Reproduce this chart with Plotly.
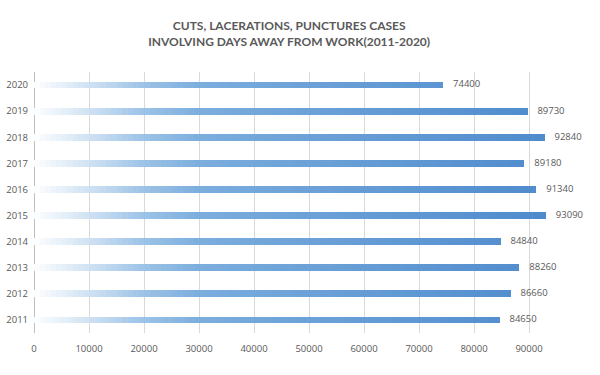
import numpy as np
import plotly.graph_objects as go

years = ["2011", "2012", "2013", "2014", "2015", "2016", "2017", "2018", "2019", "2020"]
cases = [84650, 86660, 88260, 84840, 93090, 91340, 89180, 92840, 89730, 74400]
x_ticks = [0, 10000, 20000, 30000, 40000, 50000, 60000, 70000, 80000, 90000]

title_lines = ["CUTS, LACERATIONS, PUNCTURES CASES", "INVOLVING DAYS AWAY FROM WORK(2011-2020)"]

# gradient styling (position along the value axis -> colour)
grad_pos = [0, 10000, 20000, 30000, 50000, 95000]
grad_rgb = [(255, 255, 255), (208, 226, 244), (156, 195, 231), (124, 174, 222), (108, 162, 216), (78, 138, 204)]


def grad_color(x):
    r = np.interp(x, grad_pos, [c[0] for c in grad_rgb])
    g = np.interp(x, grad_pos, [c[1] for c in grad_rgb])
    b = np.interp(x, grad_pos, [c[2] for c in grad_rgb])
    return f"rgb({int(r)},{int(g)},{int(b)})"


vals = np.array(cases, dtype=float)
step = 1000
nseg = int(np.ceil(vals.max() / step))

fig = go.Figure()
for k in range(nseg):
    seg = np.clip(vals - k * step, 0, step)
    fig.add_trace(go.Bar(
        y=years, x=seg, orientation="h",
        marker=dict(color=grad_color(k * step + step / 2), line=dict(width=0)),
        width=0.26, hoverinfo="skip", showlegend=False,
    ))

fig.add_trace(go.Scatter(
    y=years, x=cases, mode="text",
    text=[f"{v}" for v in cases], textposition="middle right",
    texttemplate="    %{text}",
    textfont=dict(family="Open Sans, sans-serif", size=9.5, color="#595959"),
    hoverinfo="skip", showlegend=False, cliponaxis=False,
))

fig.update_layout(
    width=600, height=375,
    barmode="stack", bargap=0,
    paper_bgcolor="white", plot_bgcolor="white",
    margin=dict(l=34, r=16, t=72, b=42),
    title=dict(
        text="<b>" + title_lines[0] + "<br>" + title_lines[1] + "</b>",
        x=0.482, xanchor="center", y=0.919, yanchor="middle",
        font=dict(family="Lato, sans-serif", size=12, color="#595959"),
    ),
    font=dict(family="Open Sans, sans-serif", size=9.5, color="#595959"),
)
fig.update_xaxes(
    range=[0, 100000], tickvals=x_ticks, ticktext=[str(t) for t in x_ticks],
    showgrid=True, gridcolor="#d9d9d9", gridwidth=1,
    zeroline=True, zerolinecolor="#bfbfbf", zerolinewidth=1,
    showline=False, ticks="", tickfont=dict(size=9.5, color="#595959"),
    ticklabelstandoff=8, automargin=False,
)
fig.update_yaxes(
    type="category", categoryorder="array", categoryarray=years,
    showgrid=False, ticks="", tickfont=dict(size=9.5, color="#595959"),
    ticklabelstandoff=5, automargin=False,
)

fig.write_html(
    "out.html",
    config={"displayModeBar": False, "staticPlot": True},
    post_script="document.body.style.margin='0px';",
)
